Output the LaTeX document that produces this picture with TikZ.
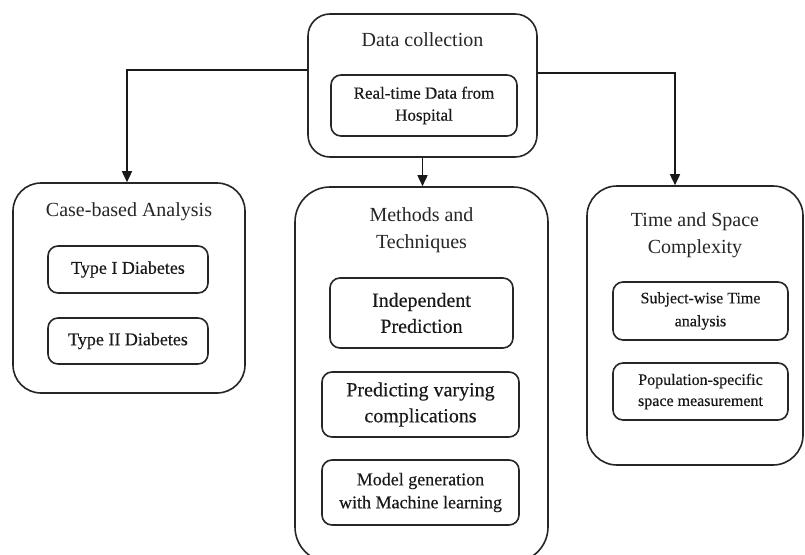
\documentclass[tikz,border=0pt]{standalone}
\usepackage{fontspec}
\setmainfont{Liberation Serif}
\newfontfamily\itemfont[FakeBold=0.35]{Liberation Serif}
\usetikzlibrary{arrows.meta}

\tikzset{
  frame/.style={draw=black!85, line width=1.6pt, rectangle, inner sep=0pt},
  groupbox/.style={frame, rounded corners=#1},
  itembox/.style={frame, rounded corners=10pt, align=center, text=black!90},
  heading/.style={align=center, text=black!85, inner sep=0pt},
  conn/.style={draw=black!90, line width=1.6pt, -{Triangle[width=10pt,length=11pt]}},
  bigtext/.style={font=\fontsize{20}{27}\selectfont},
  itemtext/.style 2 args={font=\itemfont\fontsize{#1}{#2}\selectfont},
}

\begin{document}
\begin{tikzpicture}[x=1pt, y=-1pt]
  \clip (0,0) rectangle (805,554);
  \fill[white] (0,0) rectangle (805,554);

  % Data collection
  \node[groupbox=22pt, minimum width=229pt, minimum height=143pt] (dc) at (422.5,85.5) {};
  \node[heading, bigtext] (dct) at (422.5,40) {Data collection};
  \node[itembox, itemtext={17}{22}, minimum width=186pt, minimum height=61pt] (rt) at (424,105.5) {Real-time Data from\\Hospital};

  % Case-based Analysis
  \node[groupbox=28pt, minimum width=232pt, minimum height=210pt] (ca) at (129,288) {};
  \node[heading, bigtext] (cat) at (129,212) {Case-based Analysis};
  \node[itembox, itemtext={18}{23}, minimum width=160pt, minimum height=47pt] (t1) at (128,269.5) {Type I Diabetes};
  \node[itembox, itemtext={18}{23}, minimum width=160pt, minimum height=46pt] (t2) at (128,341) {Type II Diabetes};

  % Methods and Techniques
  \node[groupbox=35pt, minimum width=253pt, minimum height=375pt] (mt) at (421.5,374.5) {};
  \node[heading, bigtext] (mtt) at (421.5,230) {Methods and\\Techniques};
  \node[itembox, itemtext={20}{26}, minimum width=183pt, minimum height=70pt] (ip) at (421.5,313) {Independent\\Prediction};
  \node[itembox, itemtext={20}{26}, minimum width=197pt, minimum height=65pt] (pv) at (420.5,404.5) {Predicting varying\\complications};
  \node[itembox, itemtext={18}{23}, minimum width=197pt, minimum height=65pt] (mg) at (420.5,492.5) {Model generation\\with Machine learning};

  % Time and Space Complexity
  \node[groupbox=30pt, minimum width=216pt, minimum height=279pt] (ts) at (695,325.5) {};
  \node[heading, bigtext] (tst) at (695,235.5) {Time and Space\\Complexity};
  \node[itembox, itemtext={16}{23}, minimum width=175pt, minimum height=58pt] (sw) at (700.5,311) {Subject-wise Time\\analysis};
  \node[itembox, itemtext={16}{21}, minimum width=175pt, minimum height=57pt] (ps) at (700.5,391.5) {Population-specific\\space measurement};

  % Connectors
  \coordinate (lbend) at (127,70);
  \coordinate (rbend) at (675,73);
  \draw[conn] (dc.west |- lbend) -- (lbend) -- (lbend |- ca.north);
  \draw[conn] (dc.east |- rbend) -- (rbend) -- (rbend |- ts.north);
  \draw[conn] (dc.south) -- (dc.south |- mt.north);
\end{tikzpicture}
\end{document}
